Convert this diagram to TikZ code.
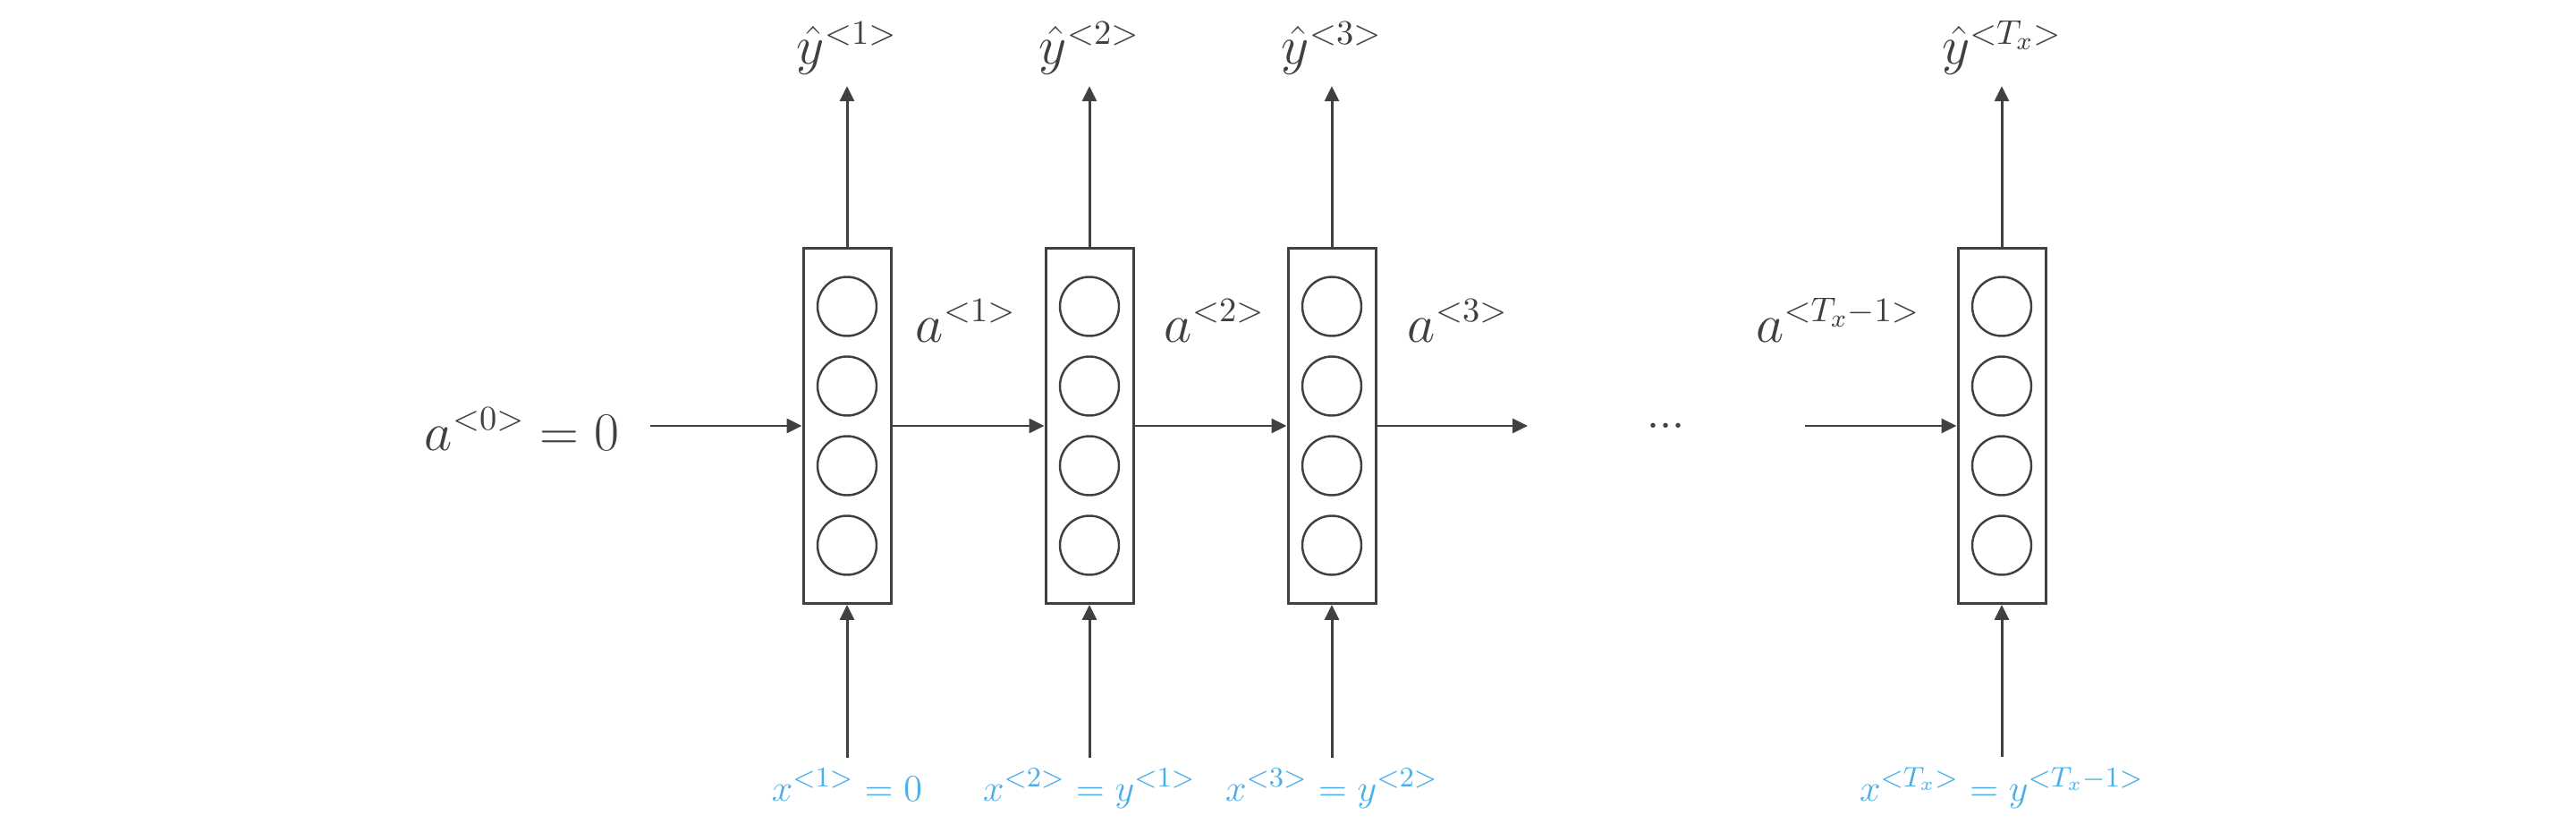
\documentclass[tikz,border=0pt]{standalone}
\usetikzlibrary{arrows.meta,positioning}
\definecolor{ink}{HTML}{404040}
\definecolor{inblue}{HTML}{4AAEE8}
\tikzset{
  cellbox/.style={draw=ink, line width=0.85pt, minimum width=0.98cm, minimum height=3.97cm, inner sep=0pt},
  unit/.style={circle, draw=ink, line width=0.7pt, minimum size=0.66cm, inner sep=0pt},
  arr/.style={draw=ink, line width=0.85pt, -{Triangle[length=0.17cm,width=0.16cm]}},
  toplbl/.style={text=ink, font=\fontsize{16}{19}\selectfont, anchor=base},
  inlbl/.style={text=inblue, font=\fontsize{12.5}{15}\selectfont, anchor=base},
}
\begin{document}
\begin{tikzpicture}
    \useasboundingbox (0,0) rectangle (28.8,9.2);

    % RNN cells, four units each
    \foreach \i/\x in {1/9.47,2/12.18,3/14.89,4/22.38}{
        \node[cellbox] (cell\i) at (\x,4.44) {};
        \foreach \j/\dy in {1/1.335,2/0.445,3/-0.445,4/-1.335}
            \node[unit] (u\i\j) at ([yshift=\dy cm]cell\i.center) {};
    }

    % Outputs
    \node[toplbl] (yhat1) at (9.47,8.48) {$\hat{y}^{<1>}$};
    \node[toplbl] (yhat2) at (12.18,8.48) {$\hat{y}^{<2>}$};
    \node[toplbl] (yhat3) at (14.89,8.48) {$\hat{y}^{<3>}$};
    \node[toplbl] (yhat4) at (22.38,8.48) {$\hat{y}^{<T_x>}$};

    % Inputs (sampled)
    \node[inlbl] (x1) at (9.47,0.25) {$x^{<1>}=0$};
    \node[inlbl] (x2) at (12.18,0.25) {$x^{<2>}=y^{<1>}$};
    \node[inlbl] (x3) at (14.89,0.25) {$x^{<3>}=y^{<2>}$};
    \node[inlbl] (x4) at (22.38,0.25) {$x^{<T_x>}=y^{<T_x-1>}$};

    % Activations
    \node[toplbl, anchor=base east, inner xsep=0.34cm] (a0) at (7.27,4.17) {$a^{<0>}=0$};
    \node[toplbl] (a1) at (10.80,5.38) {$a^{<1>}$};
    \node[toplbl] (a2) at (13.58,5.38) {$a^{<2>}$};
    \node[toplbl] (a3) at (16.30,5.38) {$a^{<3>}$};
    \node[toplbl] (a4) at (20.55,5.38) {$a^{<T_x-1>}$};
    \node[toplbl, font=\fontsize{14}{16}\selectfont] (dots) at (18.63,4.32) {${\cdotp}{\cdotp}{\cdotp}$};
    \coordinate (gapout) at (17.08,4.44);
    \coordinate (gapin) at (20.18,4.44);

    % Connectors
    \draw[arr] (a0.east |- cell1.west) -- (cell1.west);
    \draw[arr] (cell1.east) -- (cell2.west);
    \draw[arr] (cell2.east) -- (cell3.west);
    \draw[arr] (cell3.east) -- (gapout);
    \draw[arr] (gapin) -- (cell4.west);
    \foreach \i in {1,...,4}{
        \draw[arr] (cell\i.north) -- (yhat\i.south);
        \draw[arr] (x\i.north) -- (cell\i.south);
    }
\end{tikzpicture}
\end{document}
